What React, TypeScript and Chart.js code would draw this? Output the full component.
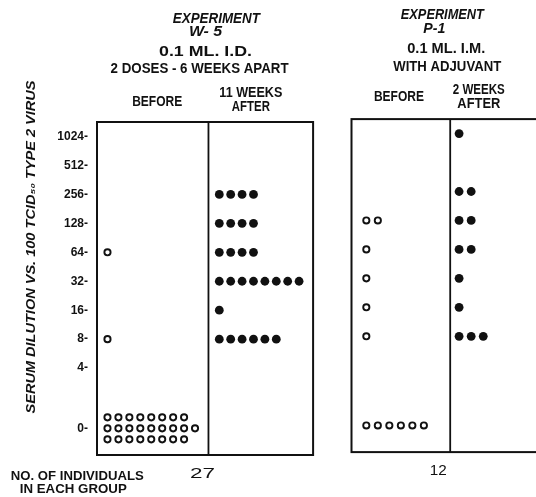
import React, { useEffect, useRef } from 'react';
import { Chart, registerables } from 'chart.js';

Chart.register(...registerables);

// ---------------- data ----------------
const TITER_LEVELS = ['0', '4', '8', '16', '32', '64', '128', '256', '512', '1024'];
// number of individuals at each titer level (same order as TITER_LEVELS)
const W5_BEFORE = [25, 0, 1, 0, 0, 1, 0, 0, 0, 0];
const W5_AFTER = [0, 0, 6, 1, 8, 4, 4, 4, 0, 0];
const P1_BEFORE = [6, 0, 1, 1, 1, 1, 2, 0, 0, 0];
const P1_AFTER = [0, 0, 3, 1, 1, 2, 2, 2, 0, 1];

const Y_TITLE = 'SERUM DILUTION VS. 100 TCID\u2085\u2080 TYPE 2 VIRUS';
const FOOT_LABEL = ['NO. OF INDIVIDUALS', 'IN EACH GROUP'];

// ---------------- layout ----------------
const ZERO_POS = -0.08;
const Y_MIN = -1;
const Y_MAX = 10.5;
const X_MIN = 0;
const X_MAX = 38;
const MAX_PER_ROW = 9;
const ROW_GAP = 0.38;
const FONT = '"Liberation Sans", Arial, sans-serif';

const levelPos = (l: string) => (l === '0' ? ZERO_POS : Math.log2(Number(l)));

function columnPoints(counts: number[], start: number, step: number, shift: number) {
  const pts: { x: number; y: number }[] = [];
  counts.forEach((n, i) => {
    if (!n) return;
    const y0 = levelPos(TITER_LEVELS[i]) + shift;
    if (n <= MAX_PER_ROW) {
      for (let k = 0; k < n; k++) pts.push({ x: start + k * step, y: y0 });
    } else {
      const rows = Math.ceil(n / MAX_PER_ROW);
      const base = Math.floor(n / rows);
      let rem = n - base * rows;
      const sizes = new Array(rows).fill(base);
      const mid = Math.floor(rows / 2);
      for (let r = 0; rem > 0; r++, rem--) sizes[(mid + r) % rows]++;
      sizes.forEach((sz, r) => {
        const off = ((rows - 1) / 2 - r) * ROW_GAP;
        for (let k = 0; k < sz; k++) pts.push({ x: start + k * step, y: y0 + off });
      });
    }
  });
  return pts;
}

const PANELS = [
  { left: 0, mid: 9.78, right: 18.96, shift: 0 },
  { left: 22.33, mid: 30.99, right: 38.8, shift: 0.1 },
];

const COLUMNS = [
  { counts: W5_BEFORE, start: 0.92, step: 0.96, shift: 0, filled: false },
  { counts: W5_AFTER, start: 10.73, step: 1.0, shift: 0, filled: true },
  { counts: P1_BEFORE, start: 23.63, step: 1.01, shift: 0.1, filled: false },
  { counts: P1_AFTER, start: 31.77, step: 1.06, shift: 0.1, filled: true },
];

const sum = (a: number[]) => a.reduce((s, v) => s + v, 0);

// header / footer texts: x in scale units, y in px, w = target width px
const BOLD = `bold 14px ${FONT}`;
const BOLD_IT = `italic bold 14px ${FONT}`;
const TEXTS = [
  { t: 'EXPERIMENT', x: 10.47, y: 19, w: 87, f: BOLD_IT },
  { t: 'W- 5', x: 9.52, y: 32, w: 33, f: BOLD_IT },
  { t: '0.1 ML. I.D.', x: 9.52, y: 52, w: 93, f: BOLD },
  { t: '2 DOSES - 6 WEEKS APART', x: 9.0, y: 69, w: 178, f: BOLD },
  { t: 'BEFORE', x: 5.28, y: 102, w: 50, f: BOLD },
  { t: '11 WEEKS', x: 13.5, y: 93, w: 63, f: BOLD },
  { t: 'AFTER', x: 13.5, y: 107, w: 38, f: BOLD },
  { t: 'EXPERIMENT', x: 30.3, y: 15, w: 83, f: BOLD_IT },
  { t: 'P-1', x: 29.6, y: 29, w: 22, f: BOLD_IT },
  { t: '0.1 ML. I.M.', x: 30.64, y: 49, w: 78, f: BOLD },
  { t: 'WITH ADJUVANT', x: 30.73, y: 67, w: 108, f: BOLD },
  { t: 'BEFORE', x: 26.49, y: 97, w: 50, f: BOLD },
  { t: '2 WEEKS', x: 33.5, y: 90, w: 52, f: BOLD },
  { t: 'AFTER', x: 33.5, y: 104, w: 43, f: BOLD },
  { t: String(sum(W5_BEFORE)), x: 9.26, y: 474, w: 25, f: `15px ${FONT}` },
  { t: String(sum(P1_BEFORE)), x: 29.95, y: 471, w: 17, f: `15px ${FONT}` },
  { t: FOOT_LABEL[0], x: -1.73, y: 477, w: 133, f: `bold 12px ${FONT}` },
  { t: FOOT_LABEL[1], x: -2.08, y: 490, w: 107, f: `bold 12px ${FONT}` },
];

function fitText(ctx: CanvasRenderingContext2D, text: string, x: number, y: number, w: number, font: string, rot = 0) {
  ctx.save();
  ctx.font = font;
  const m = ctx.measureText(text).width;
  ctx.translate(x, y);
  if (rot) ctx.rotate(rot);
  ctx.scale(w / m, 1);
  ctx.textAlign = 'center';
  ctx.textBaseline = 'middle';
  ctx.fillStyle = '#111';
  ctx.fillText(text, 0, 0);
  ctx.restore();
}

const framePlugin = {
  id: 'frames',
  beforeDatasetsDraw(chart: any) {
    const { ctx } = chart;
    const xs = chart.scales.x;
    const ys = chart.scales.y;
    ctx.save();
    ctx.strokeStyle = '#111';
    PANELS.forEach((p) => {
      const l = xs.getPixelForValue(p.left);
      const r = xs.getPixelForValue(p.right);
      const m = xs.getPixelForValue(p.mid);
      const t = ys.getPixelForValue(Y_MAX + p.shift);
      const b = ys.getPixelForValue(Y_MIN + p.shift);
      ctx.lineWidth = 2;
      ctx.strokeRect(l, t, r - l, b - t);
      ctx.lineWidth = 1.8;
      ctx.beginPath();
      ctx.moveTo(m, t);
      ctx.lineTo(m, b);
      ctx.stroke();
    });
    ctx.restore();
  },
  afterDraw(chart: any) {
    const { ctx } = chart;
    const xs = chart.scales.x;
    TEXTS.forEach((it) => fitText(ctx, it.t, xs.getPixelForValue(it.x), it.y, it.w, it.f));
    fitText(ctx, Y_TITLE, 31, 247, 333, `italic bold 13px ${FONT}`, -Math.PI / 2);
  },
};

export default function App() {
  const ref = useRef<HTMLCanvasElement>(null);
  useEffect(() => {
    document.body.style.margin = '0';
    const datasets = COLUMNS.map((c) => ({
      data: columnPoints(c.counts, c.start, c.step, c.shift),
      pointStyle: 'circle',
      pointRadius: c.filled ? 4.4 : 3.1,
      pointBorderWidth: c.filled ? 0 : 1.9,
      pointBackgroundColor: c.filled ? '#111' : '#fff',
      pointBorderColor: '#111',
      showLine: false,
    }));
    const tickVals = TITER_LEVELS.map(levelPos);
    const chart = new Chart(ref.current as HTMLCanvasElement, {
      type: 'scatter',
      data: { datasets },
      options: {
        animation: false,
        responsive: true,
        maintainAspectRatio: false,
        devicePixelRatio: 1,
        events: [],
        layout: { padding: { top: 122, bottom: 42, left: 0, right: 0 } },
        plugins: { legend: { display: false }, tooltip: { enabled: false } },
        scales: {
          x: { type: 'linear', min: X_MIN, max: X_MAX, display: false },
          y: {
            type: 'linear',
            min: Y_MIN,
            max: Y_MAX,
            grid: { display: false, drawTicks: false },
            border: { display: false },
            afterFit: (s: any) => {
              s.width = 97;
            },
            afterBuildTicks: (s: any) => {
              s.ticks = tickVals.map((v) => ({ value: v }));
            },
            ticks: {
              padding: 9,
              color: '#111',
              font: { family: FONT, size: 12, weight: 'bold' },
              callback: (v: any) => {
                const i = tickVals.findIndex((t) => Math.abs(t - Number(v)) < 1e-6);
                return i >= 0 ? TITER_LEVELS[i] + '-' : '';
              },
            },
          },
        },
      },
      plugins: [framePlugin],
    } as any);
    return () => chart.destroy();
  }, []);
  return (
    <div style={{ width: 536, height: 497, position: 'relative', background: '#fff' }}>
      <canvas ref={ref} />
    </div>
  );
}
